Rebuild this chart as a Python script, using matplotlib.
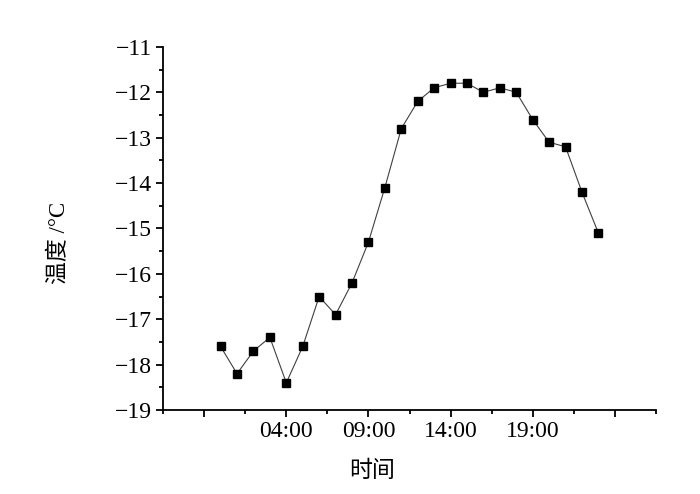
"""Hourly temperature curve (温度 vs 时间)."""

import matplotlib

matplotlib.use("Agg")
import matplotlib.pyplot as plt
from matplotlib.ticker import FixedLocator, MultipleLocator

# hours 00:00 .. 23:00
hours = list(range(24))
temperature = [
    -17.6, -18.2, -17.7, -17.4, -18.4, -17.6, -16.5, -16.9,
    -16.2, -15.3, -14.1, -12.8, -12.2, -11.9, -11.8, -11.8,
    -12.0, -11.9, -12.0, -12.6, -13.1, -13.2, -14.2, -15.1,
]
x_major = [-1, 4, 9, 14, 19, 24]
x_major_labels = ["", "04:00", "09:00", "14:00", "19:00", ""]
x_minor = [-3.5, 1.5, 6.5, 11.5, 16.5, 21.5, 26.5]

plt.rcParams["font.family"] = ["Liberation Serif", "Noto Sans CJK SC"]
plt.rcParams["axes.unicode_minus"] = True

fig = plt.figure(figsize=(7.0, 4.94), dpi=100)
ax = fig.add_axes([0.233, 0.170, 0.704, 0.735])

ax.plot(hours, temperature, color="#404040", linewidth=0.8, zorder=2)
ax.plot(hours, temperature, linestyle="none", marker="s", markersize=5.5,
        color="black", zorder=3)

ax.set_xlim(-3.5, 26.5)
ax.set_ylim(-19, -11)

ax.xaxis.set_major_locator(FixedLocator(x_major))
ax.set_xticklabels(x_major_labels)
ax.xaxis.set_minor_locator(FixedLocator(x_minor))
ax.yaxis.set_major_locator(MultipleLocator(1))
ax.yaxis.set_minor_locator(MultipleLocator(0.5))

for side in ("top", "right"):
    ax.spines[side].set_visible(False)
for side in ("left", "bottom"):
    ax.spines[side].set_linewidth(1.3)

ax.tick_params(which="major", direction="out", length=5, width=1.3,
               labelsize=17, pad=3)
ax.tick_params(which="minor", direction="out", length=3, width=1.3)

fig.text(0.085, 0.508, "温度 /°C", rotation=90, ha="center", va="center",
         fontsize=16.5)
fig.text(0.531, 0.045, "时间", ha="center", va="center", fontsize=16.5)

fig.savefig("out.png", dpi=100)
plt.close(fig)
